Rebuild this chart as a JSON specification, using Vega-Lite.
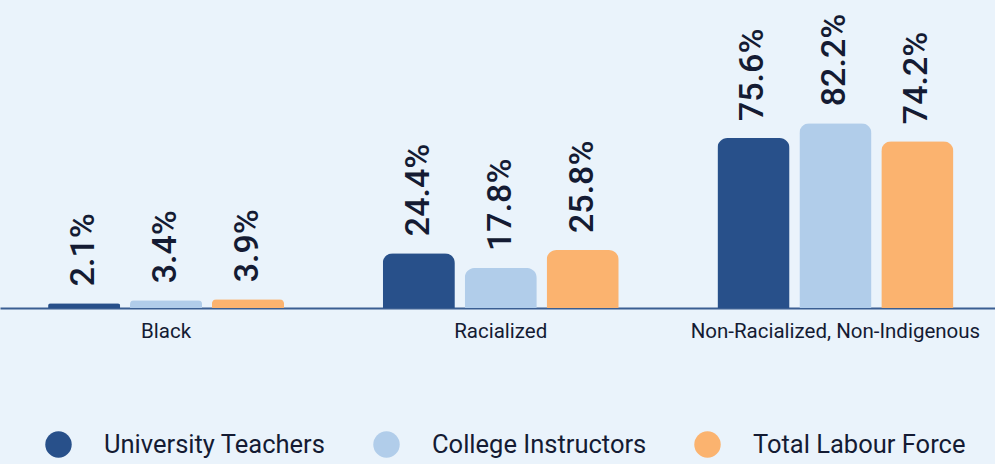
{
  "$schema": "https://vega.github.io/schema/vega-lite/v6.json",
  "width": 995,
  "height": 308,
  "autosize": {"type": "none"},
  "padding": {"left": 0, "top": 0, "right": 0, "bottom": 156},
  "background": "#eaf3fb",
  "config": {
    "view": {"stroke": null},
    "font": "Roboto"
  },
  "data": {
    "values": [
      {"group": "Black", "series": "University Teachers", "value": 0.021},
      {"group": "Black", "series": "College Instructors", "value": 0.034},
      {"group": "Black", "series": "Total Labour Force", "value": 0.039},
      {"group": "Racialized", "series": "University Teachers", "value": 0.244},
      {"group": "Racialized", "series": "College Instructors", "value": 0.178},
      {"group": "Racialized", "series": "Total Labour Force", "value": 0.258},
      {"group": "Non-Racialized, Non-Indigenous", "series": "University Teachers", "value": 0.756},
      {"group": "Non-Racialized, Non-Indigenous", "series": "College Instructors", "value": 0.822},
      {"group": "Non-Racialized, Non-Indigenous", "series": "Total Labour Force", "value": 0.742}
    ]
  },
  "encoding": {
    "x": {
      "field": "group",
      "type": "nominal",
      "sort": ["Black", "Racialized", "Non-Racialized, Non-Indigenous"],
      "scale": {"paddingInner": 0.295, "paddingOuter": 0.134, "align": 0.536},
      "axis": {
        "title": null,
        "labelAngle": 0,
        "ticks": false,
        "labelFontSize": 20.5,
        "labelColor": "#141b33",
        "labelPadding": 13,
        "labelLimit": 500,
        "labelOverlap": false,
        "domainColor": "#3a5e92",
        "domainWidth": 2,
        "grid": false
      }
    },
    "xOffset": {
      "field": "series",
      "type": "nominal",
      "scale": {"domain": ["University Teachers", "College Instructors", "Total Labour Force"], "paddingInner": 0.12}
    },
    "y": {
      "field": "value",
      "type": "quantitative",
      "scale": {"domain": [0, 1.37]},
      "axis": null
    }
  },
  "layer": [
    {
      "mark": {"type": "bar", "cornerRadiusTopLeft": 10, "cornerRadiusTopRight": 10},
      "encoding": {
        "color": {
          "field": "series",
          "type": "nominal",
          "scale": {
            "domain": ["University Teachers", "College Instructors", "Total Labour Force"],
            "range": ["#28508a", "#b1cdea", "#fbb36f"]
          },
          "legend": {
            "title": null,
            "orient": "none",
            "legendX": 45,
            "legendY": 431,
            "direction": "horizontal",
            "symbolType": "circle",
            "symbolSize": 700,
            "symbolStrokeWidth": 0,
            "labelFontSize": 25.5,
            "labelColor": "#141b33",
            "labelOffset": 32,
            "columnPadding": 47,
            "labelLimit": 400
          }
        }
      }
    },
    {
      "mark": {
        "type": "text",
        "angle": 270,
        "align": "left",
        "baseline": "middle",
        "dx": 17,
        "fontSize": 34,
        "fontWeight": 500,
        "color": "#141b33"
      },
      "encoding": {
        "text": {"field": "value", "type": "quantitative", "format": ".1%"}
      }
    }
  ]
}
